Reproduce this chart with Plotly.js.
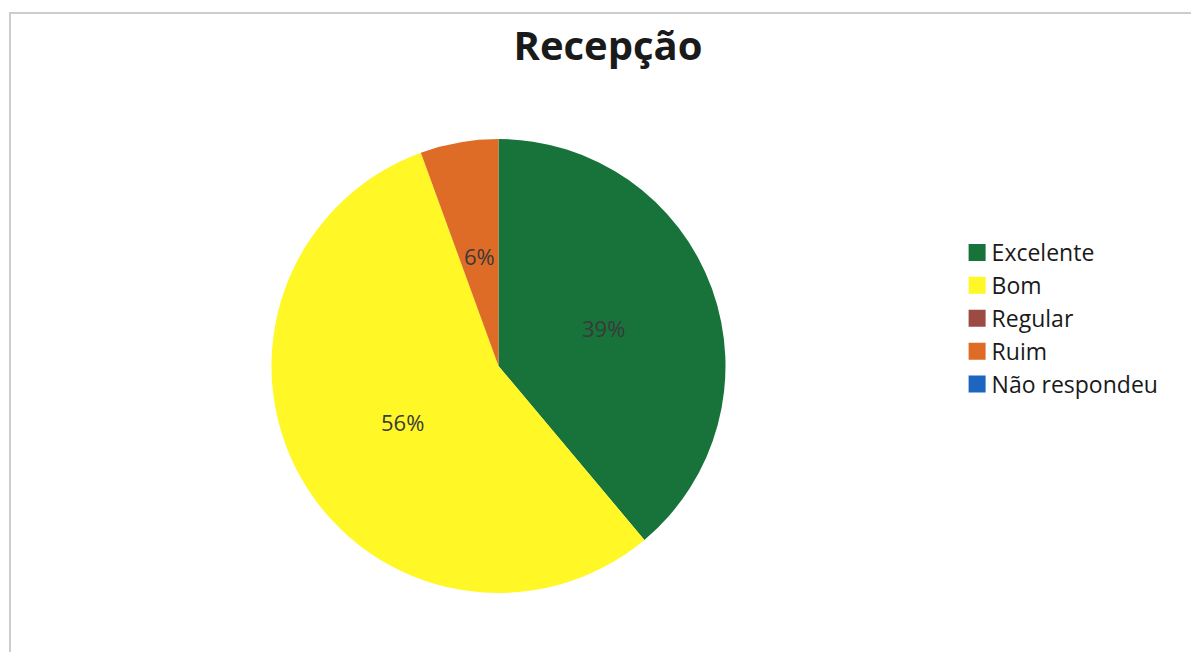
<!DOCTYPE html>
<html>
<head>
<meta charset="utf-8">
<script src="https://cdn.plot.ly/plotly-3.0.1.min.js"></script>
<style>
html,body{margin:0;padding:0;background:#fff;}
#wrap{position:relative;width:1191px;height:652px;overflow:hidden;}
#chart{width:1191px;height:652px;}
#frame{position:absolute;left:9px;top:12px;width:1300px;height:800px;border-top:2px solid #cccccc;border-left:2px solid #cccccc;pointer-events:none;}
</style>
</head>
<body>
<div id="wrap"><div id="chart"></div><div id="frame"></div></div>
<script>
const title = "Recepção";
const categories = ["Excelente", "Bom", "Regular", "Ruim", "Não respondeu"];
const counts = [7, 10, 0, 1, 0];
const colors = ["#17733A", "#FFF726", "#9C4A44", "#DE6B26", "#1C66C0"];

const W = 1191, H = 652;
const cx = 498.5, cy = 366, r = 227;
const FONT = "'Open Sans', Lato, sans-serif";

// percentage labels placed at the middle angle of each slice, ~0.49 radius (Excel style)
const total = counts.reduce((a, b) => a + b, 0);
const annotations = [];
let cum = 0;
counts.forEach((v, i) => {
  if (v > 0) {
    const mid = (cum + v / 2) / total * 2 * Math.PI;
    const rr = 0.49 * r;
    const px = cx + rr * Math.sin(mid);
    const py = cy - rr * Math.cos(mid);
    annotations.push({
      text: Math.round(v / total * 100) + "%",
      x: px / W, y: 1 - py / H, xref: "paper", yref: "paper",
      xanchor: "center", yanchor: "middle", showarrow: false,
      font: {family: FONT, size: 22, color: "#3a3a3a"}
    });
  }
  cum += v;
});

const trace = {
  type: "pie",
  labels: categories,
  values: counts,
  sort: false,
  direction: "clockwise",
  rotation: 0,
  marker: {colors: colors, line: {width: 0}},
  textinfo: "none",
  domain: {x: [(cx - r) / W, (cx + r) / W], y: [(H - cy - r) / H, (H - cy + r) / H]},
  hoverinfo: "label+percent"
};

const layout = {
  width: W, height: H,
  margin: {l: 0, r: 0, t: 0, b: 0},
  paper_bgcolor: "#fff",
  title: {text: "<b>" + title + "</b>", x: 608 / W, xanchor: "center", y: 1 - 46 / H, yanchor: "middle",
          font: {family: FONT, size: 40, color: "#1a1a1a"}},
  showlegend: true,
  annotations: annotations,
  legend: {x: 0.799, xanchor: "left", y: 1 - 231 / H, yanchor: "top",
           font: {family: FONT, size: 23, color: "#1a1a1a"},
           tracegroupgap: 0, itemclick: false}
};

Plotly.newPlot("chart", [trace], layout, {displayModeBar: false, staticPlot: true}).then(() => {
  document.querySelectorAll("#chart .legendpoints path").forEach(p => {
    p.setAttribute("d", "M14,8.5H-3V-8.5H14Z");
  });
});
</script>
</body>
</html>
